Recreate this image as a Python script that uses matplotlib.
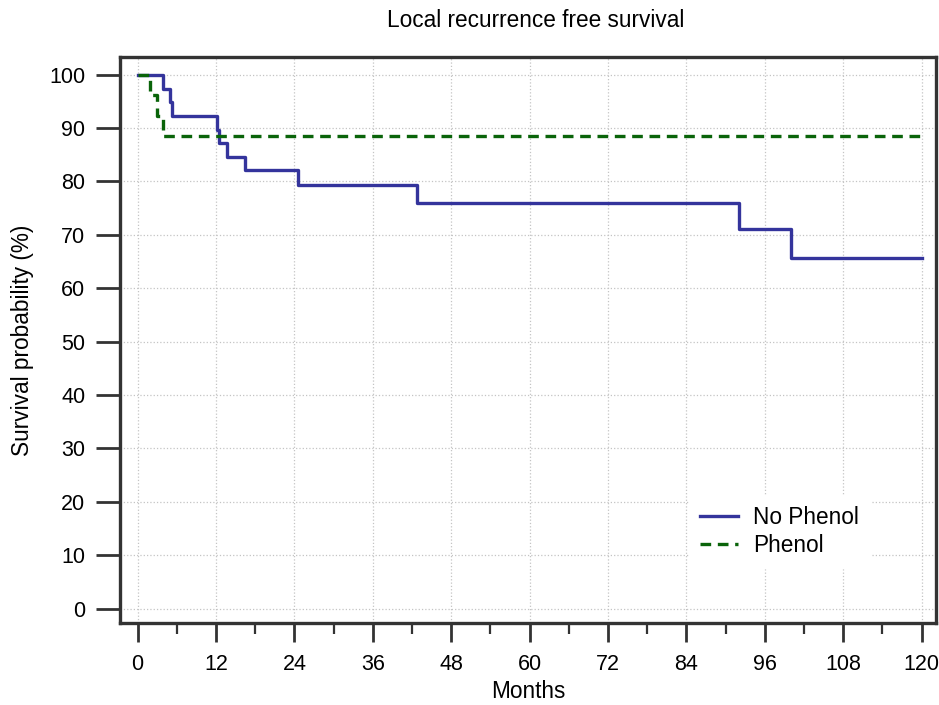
"""Kaplan-Meier style step plot: local recurrence free survival, phenol vs no phenol."""

import matplotlib
matplotlib.use("Agg")
import matplotlib.pyplot as plt
from matplotlib.ticker import MultipleLocator

plt.rcParams["font.family"] = ["Liberation Sans", "DejaVu Sans"]

# Step curves (months, survival %)
no_phenol_t = [0, 3.9, 5.0, 5.3, 12.1, 12.5, 13.7, 16.4, 24.6, 42.7, 92.1, 100.0, 120]
no_phenol_s = [100, 97.4, 94.9, 92.3, 89.7, 87.2, 84.6, 82.1, 79.3, 75.9, 71.1, 65.7, 65.7]

phenol_t = [0, 1.9, 3.0, 3.9, 120]
phenol_s = [100, 96.2, 92.3, 88.5, 88.5]

x_ticks = list(range(0, 121, 12))
y_ticks = list(range(0, 101, 10))

FS = 16.3
TICK_FS = 15.5

fig = plt.figure(figsize=(9.39, 7.05), dpi=100)
ax = fig.add_axes([0.1278, 0.1163, 0.8690, 0.8028])

ax.step(no_phenol_t, no_phenol_s, where="post", color="#34349c",
        linewidth=2.4, label="No Phenol")
ax.step(phenol_t, phenol_s, where="post", color="#0a640a",
        linewidth=2.4, linestyle=(0, (3.2, 2.0)), label="Phenol")

ax.set_xlim(-2.7, 122.2)
ax.set_ylim(-2.7, 103.3)
ax.set_xticks(x_ticks)
ax.xaxis.set_minor_locator(MultipleLocator(6))
ax.set_yticks(y_ticks)

ax.grid(True, which="major", color="#c4c4c4", linestyle=":", linewidth=0.9)
ax.set_axisbelow(True)

for s in ax.spines.values():
    s.set_linewidth(2.4)
    s.set_color("#333333")

ax.tick_params(axis="both", which="major", direction="out", length=14,
               width=2.0, color="#333333", labelsize=TICK_FS, pad=6)
ax.tick_params(axis="x", which="minor", direction="out", length=8,
               width=1.6, color="#333333")
ax.tick_params(axis="x", which="major", pad=8)
ax.tick_params(axis="y", which="major", length=17, pad=8)

ax.set_xlabel("Months", fontsize=FS, labelpad=4)
ax.set_ylabel("Survival probability (%)", fontsize=FS, labelpad=11)
fig.text(0.571, 0.971, "Local recurrence free survival", ha="center",
         va="center", fontsize=FS)

leg = ax.legend(loc="center left", bbox_to_anchor=(0.683, 0.162), frameon=True,
                fontsize=FS, handlelength=1.7, borderpad=0.5,
                labelspacing=0.2, handletextpad=0.65)
leg.get_frame().set_edgecolor("white")
leg.get_frame().set_facecolor("white")
leg.get_frame().set_alpha(1.0)
leg.get_frame().set_boxstyle("square", pad=0)

fig.savefig("out.png", dpi=100)
